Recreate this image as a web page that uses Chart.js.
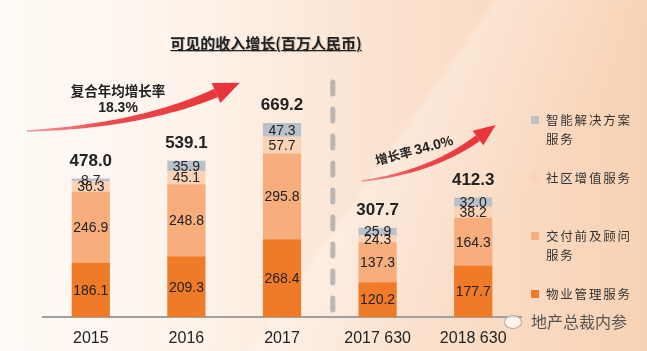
<!DOCTYPE html>
<html>
<head>
<meta charset="utf-8">
<script src="https://cdn.jsdelivr.net/npm/chart.js@4"></script>
<style>
  html, body { margin: 0; padding: 0; }
  body {
    width: 647px; height: 351px; overflow: hidden; position: relative;
    background: linear-gradient(90deg, #fffaf6 0%, #fef3ea 30%, #fbe2cf 60%, #f8d2b4 100%);
    font-family: "Noto Sans CJK SC", sans-serif;
  }
  .shade { position: absolute; inset: 0;
    background: linear-gradient(125deg, rgba(255,255,255,0) 55%, rgba(255,255,255,0.25) 56%, rgba(255,255,255,0) 75%); }
  #c { position: absolute; left: 0; top: 0; }
  .title { position: absolute; left: 0; width: 532px; top: 32px; text-align: center;
    font-size: 15px; font-weight: bold; color: #222; text-decoration: underline;
    text-shadow: 1px 1px 1px rgba(0,0,0,0.25); }
  .cagr { position: absolute; left: 58px; width: 120px; top: 82px; text-align: center;
    font-size: 13.5px; font-weight: bold; color: #222; line-height: 16px; }
  .cagr .n { font-family: Arial, "Liberation Sans", sans-serif; font-size: 14px; }
  .rate { position: absolute; left: 368px; top: 140px; width: 92px; text-align: center;
    transform: rotate(-15deg); font-size: 12.5px; font-weight: bold; color: #222; }
  .rate .n { font-family: Arial, "Liberation Sans", sans-serif; font-size: 14px; }
  .leg { position: absolute; left: 531px; font-size: 12.5px; color: #333; letter-spacing: 1.8px; line-height: 19px; }
  .leg i { position: absolute; left: 0; top: 6px; width: 8px; height: 8px; }
  .leg span { display: block; padding-left: 15px; }
  .wm { position: absolute; left: 504px; top: 309px; font-size: 16px; color: #555; letter-spacing: 0px; }
  .wm b { display: inline-block; width: 16px; height: 12px; border: 1px solid #aaa; border-radius: 50%;
    vertical-align: -1px; margin-right: 9px; background: rgba(255,255,255,0.7); }
</style>
</head>
<body>
<div class="shade"></div>
<canvas id="c" width="647" height="351"></canvas>
<div class="title">可见的收入增长(百万人民币)</div>
<div class="cagr">复合年均增长率<br><span class="n">18.3%</span></div>
<div class="rate">增长率 <span class="n">34.0%</span></div>
<div id="legend"></div>
<div class="wm"><b></b>地产总裁内参</div>
<script>
const categories = ['2015', '2016', '2017', '2017 630', '2018 630'];
const seriesNames = ['物业管理服务', '交付前及顾问服务', '社区增值服务', '智能解决方案服务'];
const propertyMgmt = [186.1, 209.3, 268.4, 120.2, 177.7];
const preDelivery = [246.9, 248.8, 295.8, 137.3, 164.3];
const communityVA = [36.3, 45.1, 57.7, 24.3, 38.2];
const smartSolution = [8.7, 35.9, 47.3, 25.9, 32.0];
const totals = [478.0, 539.1, 669.2, 307.7, 412.3];

const colors = ['#ef7b28', '#f7ae7c', '#fbd3b6', '#b9c2cb'];
const legendLines = [['智能解决方案', '服务'], ['社区增值服务'], ['交付前及顾问', '服务'], ['物业管理服务']];
const legendTops = [110, 168, 226, 284];
const legendColors = [colors[3], colors[2], colors[1], colors[0]];

// legend on the right
const legendEl = document.getElementById('legend');
legendLines.forEach((lines, i) => {
  const d = document.createElement('div');
  d.className = 'leg';
  d.style.top = legendTops[i] + 'px';
  d.innerHTML = '<i style="background:' + legendColors[i] + '"></i>' + lines.map(l => '<span>' + l + '</span>').join('');
  legendEl.appendChild(d);
});

function drawArrow(ctx, p0, p1, p2, w0, w1, headLen, headW) {
  const N = 40, left = [], right = [];
  for (let i = 0; i <= N; i++) {
    const t = i / N;
    const x = (1 - t) * (1 - t) * p0[0] + 2 * (1 - t) * t * p1[0] + t * t * p2[0];
    const y = (1 - t) * (1 - t) * p0[1] + 2 * (1 - t) * t * p1[1] + t * t * p2[1];
    const dx = 2 * (1 - t) * (p1[0] - p0[0]) + 2 * t * (p2[0] - p1[0]);
    const dy = 2 * (1 - t) * (p1[1] - p0[1]) + 2 * t * (p2[1] - p1[1]);
    const len = Math.hypot(dx, dy);
    const nx = -dy / len, ny = dx / len;
    const w = w0 + (w1 - w0) * t;
    left.push([x + nx * w / 2, y + ny * w / 2]);
    right.push([x - nx * w / 2, y - ny * w / 2]);
  }
  const g = ctx.createLinearGradient(p0[0], p0[1], p2[0], p2[1]);
  g.addColorStop(0, 'rgba(238,80,85,0.55)');
  g.addColorStop(0.4, '#ec4a4e');
  g.addColorStop(1, '#e8353b');
  ctx.save();
  ctx.fillStyle = g;
  ctx.beginPath();
  left.forEach((p, i) => i ? ctx.lineTo(p[0], p[1]) : ctx.moveTo(p[0], p[1]));
  for (let i = right.length - 1; i >= 0; i--) ctx.lineTo(right[i][0], right[i][1]);
  ctx.closePath();
  ctx.fill();
  let dx = p2[0] - p1[0], dy = p2[1] - p1[1];
  const l = Math.hypot(dx, dy); dx /= l; dy /= l;
  ctx.fillStyle = '#e8353b';
  ctx.beginPath();
  ctx.moveTo(p2[0] + dx * headLen, p2[1] + dy * headLen);
  ctx.lineTo(p2[0] - dy * headW / 2, p2[1] + dx * headW / 2);
  ctx.lineTo(p2[0] + dy * headW / 2, p2[1] - dx * headW / 2);
  ctx.closePath();
  ctx.fill();
  ctx.restore();
}

const decorPlugin = {
  id: 'decor',
  beforeDatasetsDraw(chart) {
    const ctx = chart.ctx;
    const xs = chart.scales.x;
    const sepX = (xs.getPixelForValue(2) + xs.getPixelForValue(3)) / 2 + 3;
    ctx.save();
    ctx.strokeStyle = 'rgba(170,170,170,0.8)';
    ctx.lineWidth = 5;
    ctx.lineCap = 'round';
    ctx.setLineDash([12, 15]);
    ctx.beginPath();
    ctx.moveTo(sepX, 82);
    ctx.lineTo(sepX, 325);
    ctx.stroke();
    ctx.restore();
    drawArrow(ctx, [27, 131], [140, 126], [216, 93], 1.5, 9, 26, 22);
    drawArrow(ctx, [362, 181], [432, 172], [478, 138], 1.5, 7, 22, 18);
  },
  afterDatasetsDraw(chart) {
    const ctx = chart.ctx;
    ctx.save();
    ctx.textAlign = 'center';
    ctx.textBaseline = 'middle';
    ctx.fillStyle = '#222';
    ctx.font = '14px Arial, "Liberation Sans", sans-serif';
    chart.data.datasets.forEach((ds, di) => {
      chart.getDatasetMeta(di).data.forEach((el, i) => {
        ctx.fillText(ds.data[i].toFixed(1), el.x, (el.y + el.base) / 2 + 1);
      });
    });
    const topMeta = chart.getDatasetMeta(chart.data.datasets.length - 1);
    ctx.font = 'bold 17px Arial, "Liberation Sans", sans-serif';
    ctx.textBaseline = 'bottom';
    topMeta.data.forEach((el, i) => {
      ctx.fillText(totals[i].toFixed(1), el.x, el.y - 9);
    });
    ctx.restore();
  }
};

const seriesData = [propertyMgmt, preDelivery, communityVA, smartSolution];

new Chart(document.getElementById('c'), {
  type: 'bar',
  data: {
    labels: categories,
    datasets: seriesData.map((d, i) => ({
      label: seriesNames[i],
      data: d,
      backgroundColor: colors[i],
      borderWidth: 0,
      barPercentage: 0.8,
      categoryPercentage: 0.5
    }))
  },
  options: {
    responsive: false,
    animation: false,
    devicePixelRatio: 1,
    layout: { padding: { left: 43, right: 126, top: 85, bottom: 0 } },
    plugins: { legend: { display: false }, tooltip: { enabled: false } },
    scales: {
      x: {
        stacked: true,
        grid: { display: false, drawTicks: false },
        border: { color: '#a0a0a0', width: 2 },
        ticks: { color: '#222', padding: 12, font: { size: 16, family: 'Arial, "Liberation Sans", sans-serif' } },
        afterFit(axis) { axis.height = 34; }
      },
      y: { stacked: true, display: false, min: 0, max: 800 }
    }
  },
  plugins: [decorPlugin]
});
</script>
</body>
</html>
